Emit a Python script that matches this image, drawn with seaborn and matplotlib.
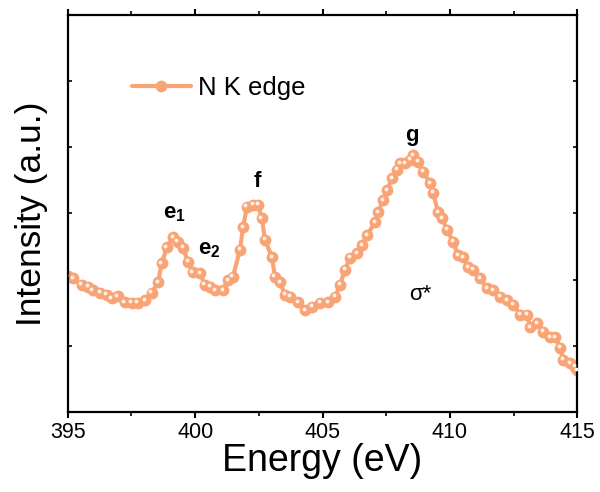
import numpy as np
import pandas as pd
import matplotlib.pyplot as plt
import matplotlib.transforms as mtransforms
import seaborn as sns

# N K edge spectrum
energy = [395.00, 395.20, 395.55, 395.79, 395.98, 396.26, 396.53, 396.73, 396.96, 397.24,
          397.51, 397.75, 398.03, 398.30, 398.54, 398.69, 398.89, 399.13, 399.32, 399.52,
          399.72, 399.91, 400.19, 400.38, 400.58, 400.78, 401.09, 401.29, 401.48, 401.76,
          401.88, 402.03, 402.27, 402.47, 402.62, 402.74, 403.02, 403.13, 403.33, 403.53,
          403.72, 404.04, 404.31, 404.59, 404.90, 405.22, 405.49, 405.69, 405.88, 406.08,
          406.36, 406.55, 406.75, 407.06, 407.18, 407.38, 407.53, 407.73, 407.93, 408.05,
          408.24, 408.44, 408.56, 408.75, 408.95, 409.22, 409.34, 409.54, 409.70, 409.89,
          410.13, 410.32, 410.52, 410.72, 410.91, 411.19, 411.46, 411.70, 411.97, 412.25,
          412.49, 412.76, 413.04, 413.15, 413.43, 413.66, 413.94, 414.14, 414.33, 414.45,
          414.72, 414.92, 415.00]
intensity = [2.05, 2.02, 1.92, 1.89, 1.84, 1.80, 1.77, 1.72, 1.75, 1.66,
             1.65, 1.65, 1.69, 1.80, 1.96, 2.25, 2.49, 2.64, 2.57, 2.48,
             2.27, 2.11, 2.10, 1.92, 1.89, 1.84, 1.84, 1.99, 2.04, 2.45,
             2.79, 3.10, 3.13, 3.13, 2.93, 2.60, 2.34, 2.04, 1.96, 1.77,
             1.74, 1.66, 1.54, 1.59, 1.65, 1.66, 1.74, 1.92, 2.15, 2.33,
             2.40, 2.52, 2.67, 2.87, 3.02, 3.20, 3.35, 3.53, 3.66, 3.76,
             3.76, 3.81, 3.88, 3.78, 3.63, 3.46, 3.31, 3.02, 2.93, 2.75,
             2.57, 2.37, 2.34, 2.19, 2.15, 2.02, 1.87, 1.84, 1.74, 1.69,
             1.62, 1.47, 1.47, 1.28, 1.34, 1.21, 1.13, 1.13, 0.97, 0.79,
             0.74, 0.68, 0.63]

# peak annotations
peak_labels = ['e$_{\\mathbf{1}}$', 'e$_{\\mathbf{2}}$', 'f', 'g']
peak_x = [399.2, 400.55, 402.45, 408.5]
peak_y = [3.0, 2.45, 3.49, 4.18]

df = pd.DataFrame({'energy': energy, 'intensity': intensity})

sns.set_style('ticks')
plt.rcParams['font.family'] = ['Liberation Sans', 'DejaVu Sans']
plt.rcParams['mathtext.fontset'] = 'custom'
plt.rcParams['mathtext.rm'] = 'Liberation Sans'
plt.rcParams['mathtext.bf'] = 'Liberation Sans:bold'
plt.rcParams['text.color'] = 'black'
plt.rcParams['axes.labelcolor'] = 'black'
plt.rcParams['axes.edgecolor'] = 'black'
plt.rcParams['xtick.color'] = 'black'
plt.rcParams['ytick.color'] = 'black'

color = '#F9A477'

fig = plt.figure(figsize=(6, 4.92), dpi=100)
ax = fig.add_axes([0.113, 0.1626, 0.849, 0.807])

sns.lineplot(
    data=df,
    x='energy',
    y='intensity',
    sort=False,
    color=color,
    lw=3,
    marker='o',
    markersize=8.5,
    markeredgewidth=0,
    label='N K edge',
    ax=ax
)

# sphere highlight on each marker
hl = mtransforms.offset_copy(ax.transData, fig=fig, x=-1.0, y=1.1, units='points')
ax.plot(df['energy'], df['intensity'], ls='none', marker='o', ms=2.8,
        mfc='#FFF0E6', mec='none', transform=hl, zorder=3)

for lab, xx, yy in zip(peak_labels, peak_x, peak_y):
    ax.text(xx, yy, lab, fontsize=16, fontweight='bold', ha='center', va='center')
ax.text(408.85, 1.77, '\u03c3*', fontsize=16, ha='center', va='center')

ax.set_xlim(395, 415)
ax.set_ylim(0, 6)
ax.set_xticks([395, 400, 405, 410, 415])
ax.set_xticks([397.5, 402.5, 407.5, 412.5], minor=True)
ax.set_yticks(range(7))
ax.set_yticklabels([])
ax.tick_params(axis='x', which='major', direction='out', length=4, width=1.5,
               labelsize=15.5, top=True, pad=3)
ax.tick_params(axis='x', which='minor', direction='out', length=3, width=1.2, top=True)
ax.tick_params(axis='y', direction='in', length=3, width=1.2, right=True, left=True)
for s in ax.spines.values():
    s.set_linewidth(1.6)

ax.set_xlabel('Energy (eV)', fontsize=27, labelpad=0)
ax.set_ylabel('Intensity (a.u.)', fontsize=25.5, labelpad=11)

leg = ax.legend(loc='upper left', frameon=False, fontsize=18.5, handlelength=2.3,
                bbox_to_anchor=(0.08, 0.905), handletextpad=0.3)

plt.savefig('out.png', dpi=100)
